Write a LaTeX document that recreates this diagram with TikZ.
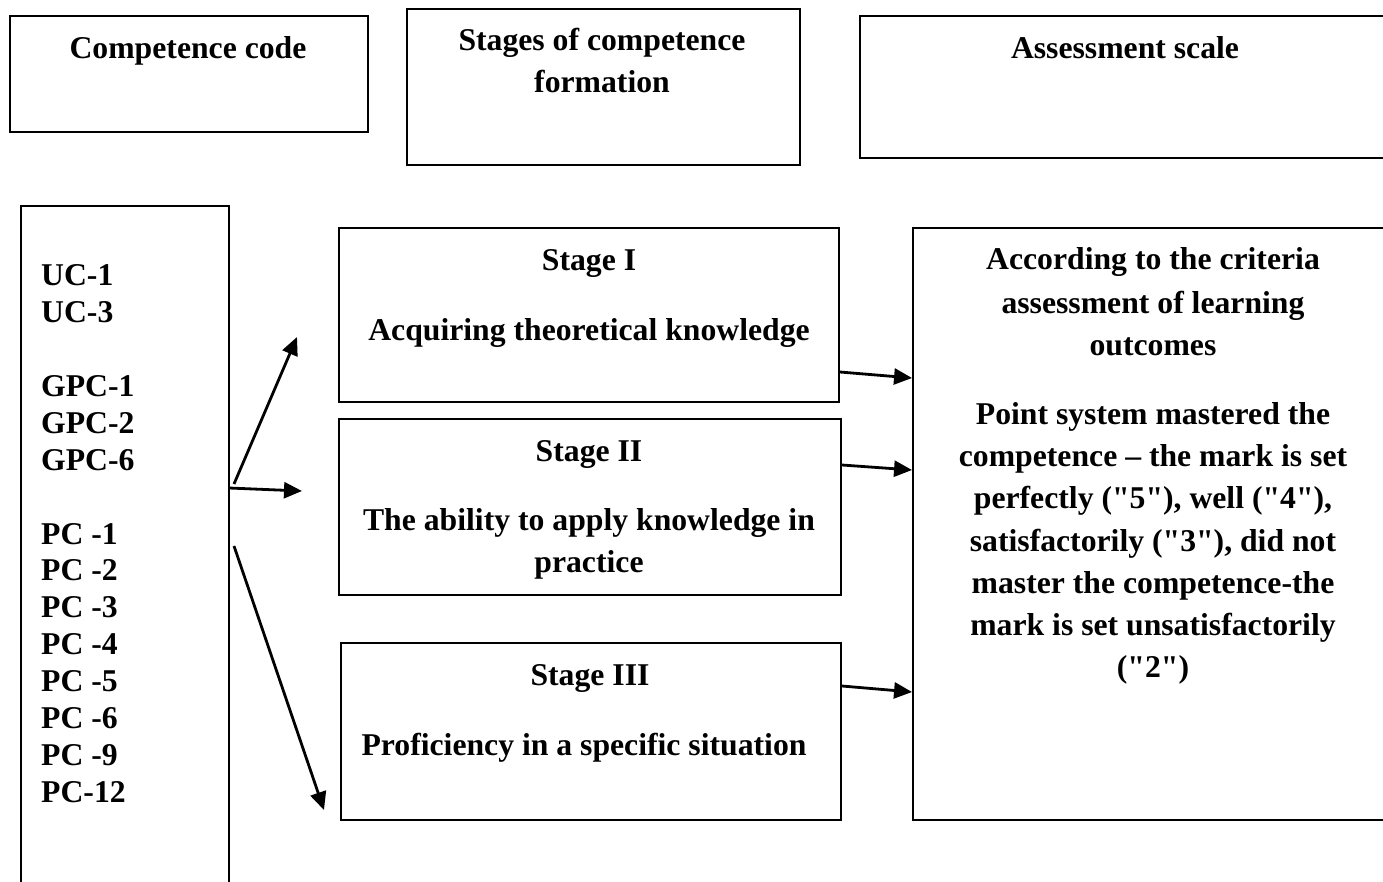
\documentclass[tikz,border=0pt]{standalone}
\usepackage{fontspec}
\setmainfont{Liberation Serif}[Ligatures=TeXOff]
\usetikzlibrary{arrows.meta}
\begin{document}
\begin{tikzpicture}[x=1pt,y=-1pt,
  frame/.style={draw,line width=1.9pt,rectangle,inner sep=0pt},
  txt/.style={inner sep=0pt,anchor=base,font=\fontsize{31.7}{38}\selectfont\bfseries},
  ltxt/.style={txt,anchor=base west},
  link/.style={line width=2.8pt,-{Triangle[length=18pt,width=16pt]}}]
\useasboundingbox (0,0) rectangle (1383,882);
\clip (0,0) rectangle (1383,882);

% header boxes
\node[frame,minimum width=358pt,minimum height=116pt] (hdA) at (189,74) {};
\node[frame,minimum width=393pt,minimum height=156pt] (hdB) at (603.5,87) {};
\node[frame,minimum width=540pt,minimum height=142pt] (hdC) at (1130,87) {};
\node[txt] (tA) at (188,59) {Competence code};
\node[txt] (tB1) at (602,51) {Stages of competence};
\node[txt] (tB2) at (602,93) {formation};
\node[txt] (tC) at (1125,59) {Assessment scale};

% competence codes
\node[frame,minimum width=208pt,minimum height=694pt] (codes) at (125,553) {};
\foreach \t/\k [count=\i] in {UC-1/0,UC-3/1,GPC-1/3,GPC-2/4,GPC-6/5,PC -1/7,PC -2/8,PC -3/9,PC -4/10,PC -5/11,PC -6/12,PC -9/13,PC-12/14}
  \node[ltxt] (code\i) at (41,286+36.86*\k) {\t};

% stages
\node[frame,minimum width=500pt,minimum height=174pt] (s1) at (589,315) {};
\node[frame,minimum width=502pt,minimum height=176pt] (s2) at (590,507) {};
\node[frame,minimum width=500pt,minimum height=177pt] (s3) at (591,731.5) {};
\node[txt] (s1a) at (589,271) {Stage I};
\node[txt] (s1b) at (589,341) {Acquiring theoretical knowledge};
\node[txt] (s2a) at (589,461) {Stage II};
\node[txt] (s2b) at (589,530) {The ability to apply knowledge in};
\node[txt] (s2c) at (589,572) {practice};
\node[txt] (s3a) at (590,685) {Stage III};
\node[txt] (s3b) at (584,755) {Proficiency in a specific situation};

% assessment
\node[frame,minimum width=487pt,minimum height=592pt] (res) at (1156.5,524) {};
\foreach \t/\b [count=\i] in {According to the criteria/270,assessment of learning/313,outcomes/355,
  Point system mastered the/424,competence – the mark is set/466,{perfectly ("5"), well ("4"),}/508,
  {satisfactorily ("3"), did not}/551,master the competence-the/593,mark is set unsatisfactorily/635,("2")/677}
  \node[txt] (r\i) at (1153,\b) {\t};

% connectors
\coordinate (o1) at (234,484); \coordinate (e1) at (297,337);
\coordinate (o2) at (229,488); \coordinate (e2) at (302,491);
\coordinate (o3) at (234,546); \coordinate (e3) at (324,810);
\draw[link] (o1) -- (e1);
\draw[link] (o2) -- (e2);
\draw[link] (o3) -- (e3);
\draw[link] (s1.east |- 0,372) -- (res.west |- 0,378);
\draw[link] (s2.east |- 0,465) -- (res.west |- 0,470);
\draw[link] (s3.east |- 0,686) -- (res.west |- 0,692);
\end{tikzpicture}
\end{document}
